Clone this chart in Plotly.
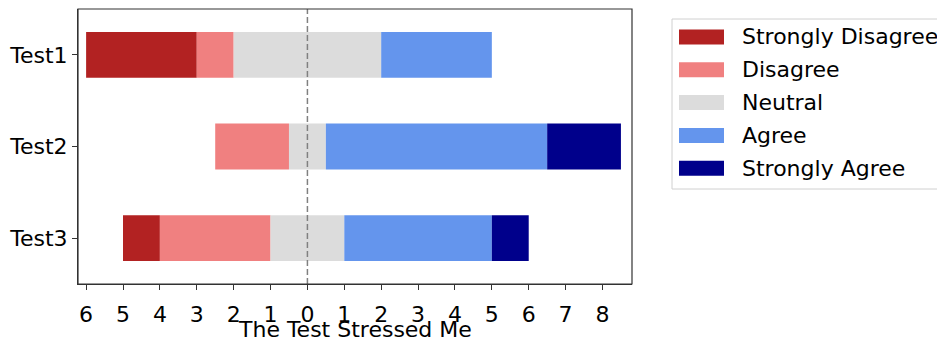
import plotly.graph_objects as go

tests = ["Test1", "Test2", "Test3"]
levels = ["Strongly Disagree", "Disagree", "Neutral", "Agree", "Strongly Agree"]
colors = ["#b22222", "#f08080", "#dcdcdc", "#6495ed", "#00008b"]
strongly_disagree = [3, 0, 1]
disagree = [1, 2, 3]
neutral = [4, 1, 2]
agree = [3, 6, 4]
strongly_agree = [0, 2, 1]
x_ticks = list(range(-6, 9))
x_tick_labels = [str(abs(v)) for v in x_ticks]
x_title = "The Test Stressed Me"

series = [strongly_disagree, disagree, neutral, agree, strongly_agree]

FONT = "DejaVu Sans"
FS = 22
OFF = 8  # page body margin
W, H = 945 - OFF, 341 - OFF
L, R, T, B = 78 - OFF, 632 - OFF, 9 - OFF, 284 - OFF

fig = go.Figure()
starts = [-(sd + d + n / 2) for sd, d, n in zip(strongly_disagree, disagree, neutral)]
bases = list(starts)
for name, vals, col in zip(levels, series, colors):
    fig.add_trace(go.Bar(
        y=tests, x=vals, base=list(bases), orientation="h", name=name,
        marker=dict(color=col, line=dict(width=0)), width=0.5, showlegend=False,
    ))
    bases = [b + v for b, v in zip(bases, vals)]

fig.add_vline(x=0, line=dict(color="#808080", width=1.5, dash="6px,3px"), layer="above")

# plot frame
fig.add_shape(type="rect", xref="paper", yref="paper", x0=0, x1=1, y0=0, y1=1,
              line=dict(color="#333333", width=1.2), fillcolor="rgba(0,0,0,0)", layer="above")

# legend drawn in paper coordinates (window pixel positions)
pw, ph = R - L, B - T
def px(x):
    return (x - OFF - L) / pw
def py(y):
    return (B - (y - OFF)) / ph

shapes = []
annotations = []
shapes.append(dict(type="rect", xref="paper", yref="paper",
                   x0=px(672), x1=px(960), y0=py(189), y1=py(19),
                   line=dict(color="#d0d0d0", width=1), fillcolor="white", layer="above"))
row0, step = 37, 32.8
for i, (name, col) in enumerate(zip(levels, colors)):
    cy = row0 + i * step
    shapes.append(dict(type="rect", xref="paper", yref="paper",
                       x0=px(679), x1=px(724), y0=py(cy + 7.5), y1=py(cy - 7.5),
                       line=dict(width=0), fillcolor=col, layer="above"))
    annotations.append(dict(xref="paper", yref="paper", x=px(740), y=py(cy),
                            text=name, showarrow=False, xanchor="left", yanchor="middle",
                            font=dict(family=FONT, size=FS, color="black")))
# x-axis title
annotations.append(dict(xref="paper", yref="paper", x=0.5, y=py(329),
                        text=x_title, showarrow=False, xanchor="center", yanchor="middle",
                        font=dict(family=FONT, size=FS, color="black")))
for s in shapes:
    fig.add_shape(**s)
for a in annotations:
    fig.add_annotation(**a)

fig.update_layout(
    width=W, height=H, barmode="overlay",
    margin=dict(l=L, r=W - R, t=T, b=H - B),
    plot_bgcolor="white", paper_bgcolor="white",
    font=dict(family=FONT, size=FS, color="black"),
    showlegend=False,
)
fig.update_xaxes(
    range=[-6.22, 8.8], tickvals=x_ticks, ticktext=x_tick_labels,
    showgrid=False, zeroline=False, showline=True, linecolor="#333333", linewidth=1,
    ticks="outside", ticklen=5, tickcolor="#333333", ticklabelstandoff=6,
    tickfont=dict(family=FONT, size=FS),
)
fig.update_yaxes(
    range=[2.5, -0.5], type="category",
    showgrid=False, zeroline=False, showline=True, linecolor="#333333", linewidth=1,
    ticks="outside", ticklen=5, tickcolor="#333333",
    tickfont=dict(family=FONT, size=FS),
)

fig.write_html("out.html")
